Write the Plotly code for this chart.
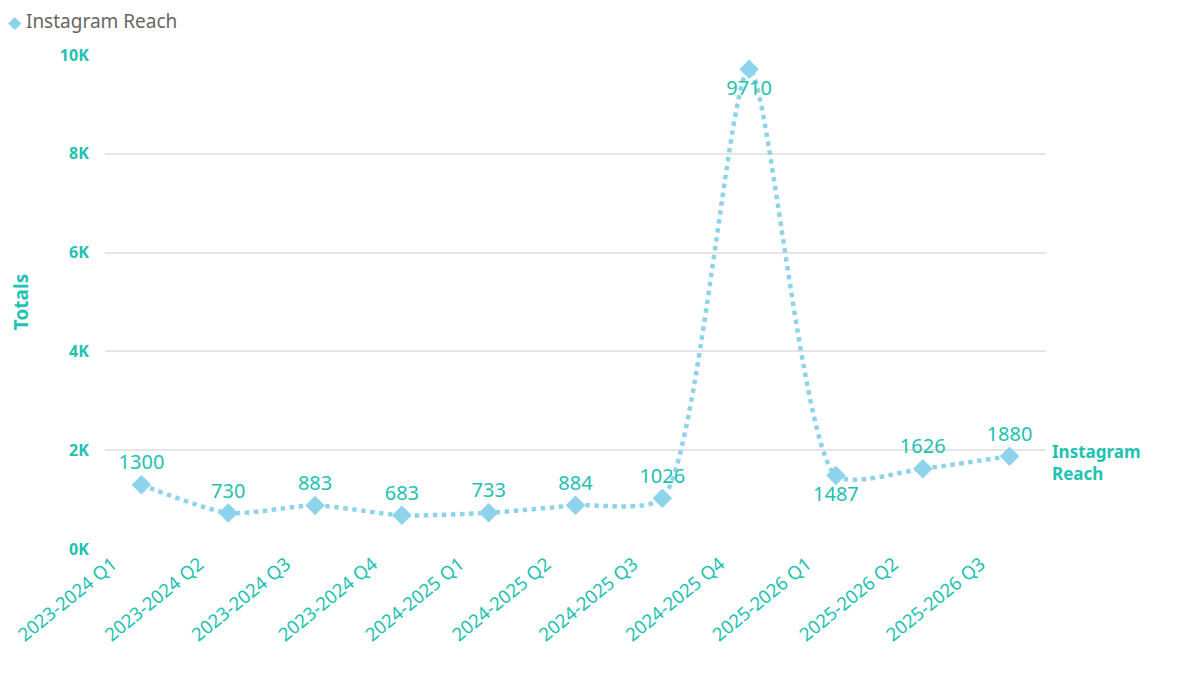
import plotly.graph_objects as go

categories = ["2023-2024 Q1", "2023-2024 Q2", "2023-2024 Q3", "2023-2024 Q4",
              "2024-2025 Q1", "2024-2025 Q2", "2024-2025 Q3", "2024-2025 Q4",
              "2025-2026 Q1", "2025-2026 Q2", "2025-2026 Q3"]
instagram_reach = [1300, 730, 883, 683, 733, 884, 1026, 9710, 1487, 1626, 1880]
label_positions = ["top center"] * 7 + ["bottom center", "bottom center", "top center", "top center"]
y_tick_values = [0, 2000, 4000, 6000, 8000, 10000]
y_tick_labels = ["0K", "2K", "4K", "6K", "8K", "10K"]
series_name = "Instagram Reach"

TEAL = "#22C1B1"
LINE = "#8DD3EC"
FONT = "Segoe UI, Noto Sans, Open Sans, sans-serif"

ML, MR, MT, MB = 97, 162, 47, 135
PW, PH = 1200 - ML - MR, 676 - MT - MB

fig = go.Figure()
fig.add_trace(go.Scatter(
    x=categories, y=instagram_reach, name=series_name,
    mode="lines+markers+text", showlegend=False,
    line=dict(color=LINE, width=4.5, dash="dot", shape="spline", smoothing=0.65),
    marker=dict(symbol="diamond", size=15, color=LINE),
    text=[str(v) for v in instagram_reach],
    textposition=label_positions,
    textfont=dict(color=TEAL, size=20, family=FONT),
    cliponaxis=False,
))

# legend (diamond + name)
fig.add_annotation(
    xref="paper", yref="paper", x=-ML / PW, y=1 + MT / PH,
    xanchor="left", yanchor="top", showarrow=False,
    text=f"<span style='color:{LINE};font-size:17px'>◆</span> {series_name}",
    font=dict(color="#666666", size=19, family=FONT),
    xshift=-2, yshift=2,
)

fig.add_annotation(
    x=categories[-1], y=instagram_reach[-1],
    text="<b>Instagram<br>Reach</b>", showarrow=False,
    xanchor="left", yanchor="middle", align="left",
    xshift=40, yshift=-6,
    font=dict(color=TEAL, size=17, family=FONT),
)

fig.update_layout(
    width=1200, height=676,
    paper_bgcolor="white", plot_bgcolor="white",
    margin=dict(l=ML, r=MR, t=MT, b=MB, autoexpand=False),
    font=dict(family=FONT),
    showlegend=False,
    xaxis=dict(
        type="category", range=[-0.42, 10.42],
        showgrid=False, zeroline=False, showline=False,
        tickangle=-39, ticklabelshift=-29, automargin=False,
        tickfont=dict(color=TEAL, size=18.5, family=FONT),
        ticks="",
    ),
    yaxis=dict(
        range=[0, 10000], automargin=False,
        tickvals=y_tick_values, ticktext=y_tick_labels,
        showgrid=True, gridcolor="#E5E5E5", gridwidth=1.5,
        zeroline=False, showline=False,
        ticks="outside", ticklen=12, tickcolor="rgba(0,0,0,0)",
        tickfont=dict(color=TEAL, size=16, family=FONT, weight="bold"),
        title=dict(text="<b>Totals</b>", font=dict(color=TEAL, size=19, family=FONT), standoff=38),
    ),
)

fig.write_html("out.html")
